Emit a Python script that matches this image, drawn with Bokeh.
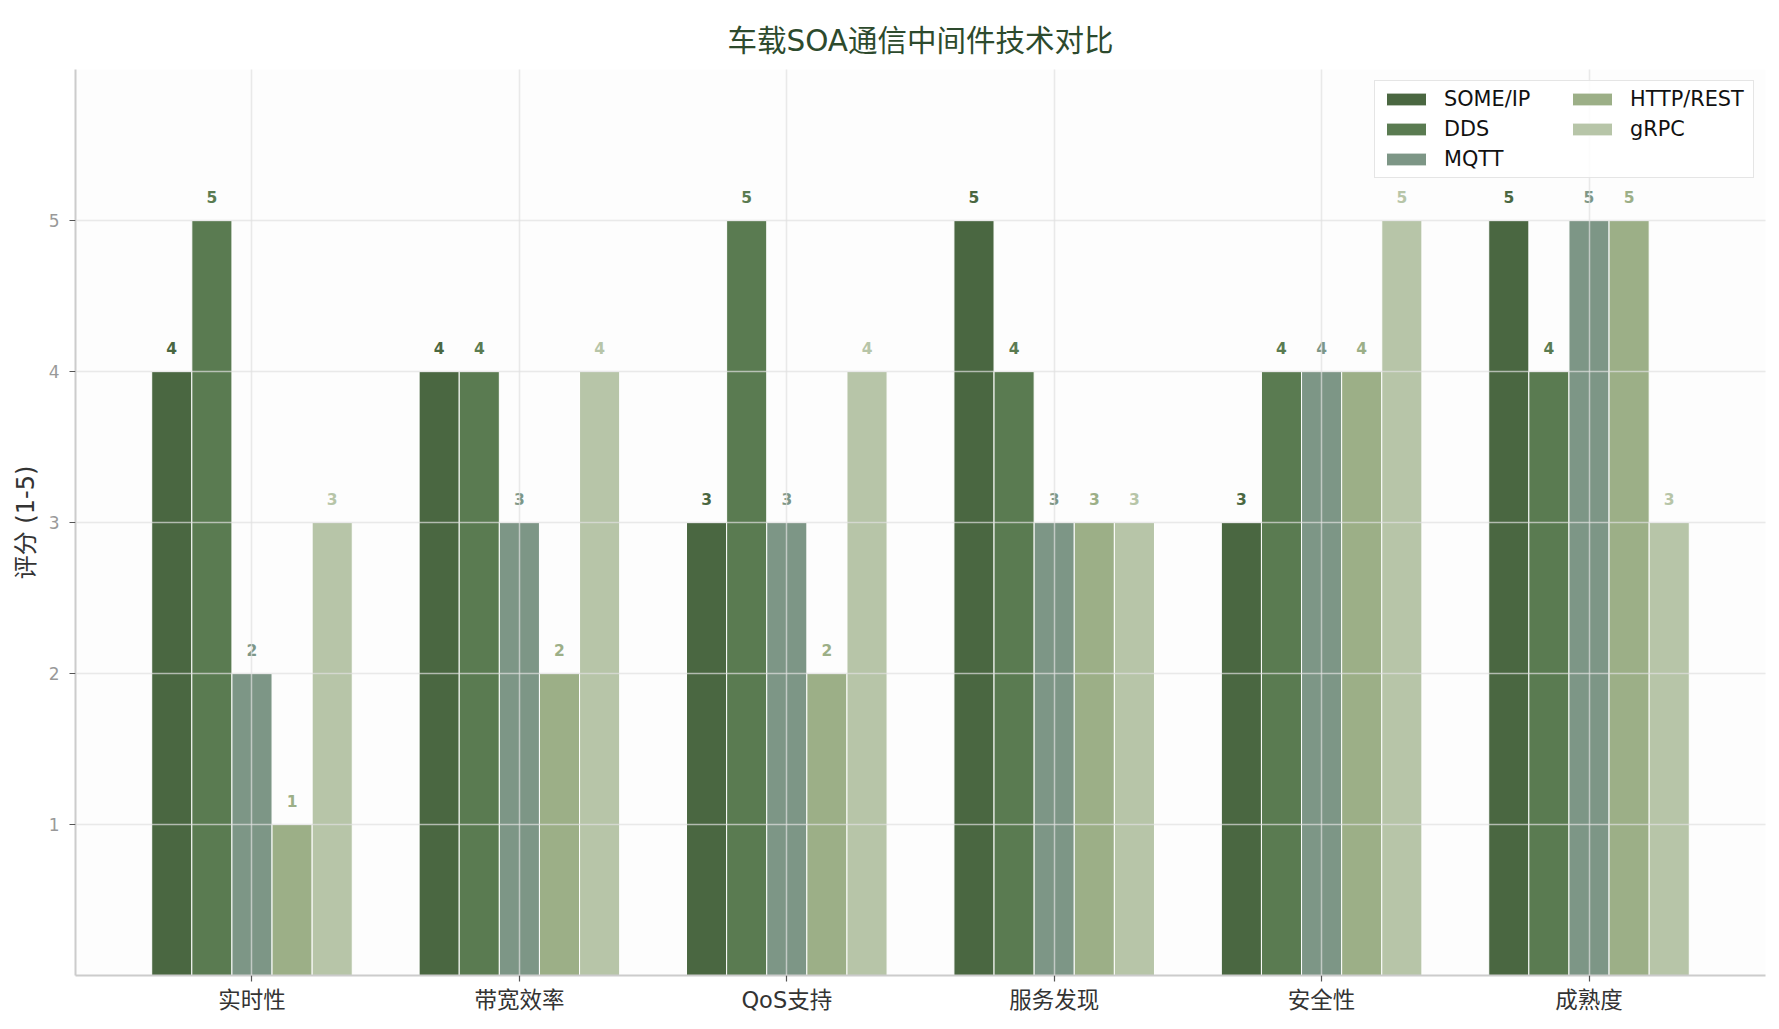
from bokeh.plotting import figure
from bokeh.models import ColumnDataSource, FactorRange, Range1d, FixedTicker, Legend, LegendItem
from bokeh.transform import dodge
from bokeh.core.properties import value
from bokeh.embed import file_html
from bokeh.resources import INLINE

categories = ["实时性", "带宽效率", "QoS支持", "服务发现", "安全性", "成熟度"]
series_names = ["SOME/IP", "DDS", "MQTT", "HTTP/REST", "gRPC"]
some_ip = [4, 4, 3, 5, 3, 5]
dds = [5, 4, 5, 4, 4, 4]
mqtt = [2, 3, 3, 3, 4, 5]
http_rest = [1, 2, 2, 3, 4, 5]
grpc = [3, 4, 4, 3, 5, 3]
y_ticks = [1, 2, 3, 4, 5]
title_text = "车载SOA通信中间件技术对比"

series_values = [some_ip, dds, mqtt, http_rest, grpc]
colors = ["#4a6741", "#5a7b51", "#7d9686", "#9caf87", "#b7c5a8"]
offsets = [-0.3, -0.15, 0.0, 0.15, 0.3]
bar_w = 0.15

MIX = "DejaVu Sans, Noto Sans CJK SC"

p = figure(
    width=1779, height=1029,
    x_range=FactorRange(factors=categories, range_padding=0.16, range_padding_units="absolute"),
    y_range=Range1d(0, 6),
    output_backend="svg", toolbar_location=None,
    min_border_left=75, min_border_right=14, min_border_top=69, min_border_bottom=54,
    title=title_text,
)
p.background_fill_color = "#fdfdfd"
p.border_fill_color = "white"
p.outline_line_color = None

p.title.text_font = MIX
p.title.text_font_size = "29.5px"
p.title.text_font_style = "normal"
p.title.text_color = "#2d4a2d"
p.title.align = "center"
p.title.vertical_align = "top"
p.title.offset = 0
p.title.standoff = 20

data = {"cat": categories}
for i, vals in enumerate(series_values):
    data[f"v{i}"] = vals
    data[f"l{i}"] = [str(v) for v in vals]
    data[f"ly{i}"] = [v + 0.155 for v in vals]
src = ColumnDataSource(data)

items = []
for i, name in enumerate(series_names):
    r = p.vbar(x=dodge("cat", offsets[i], range=p.x_range), top=f"v{i}", bottom=0, width=bar_w,
               source=src, fill_color=colors[i], line_color="white", line_width=1)
    p.text(x=dodge("cat", offsets[i], range=p.x_range), y=f"ly{i}", text=f"l{i}", source=src,
           text_color=colors[i], text_font=value("DejaVu Sans"), text_font_style="bold",
           text_font_size="15.5px", text_align="center", text_baseline="alphabetic")
    items.append(LegendItem(label=name, renderers=[r]))

legend = Legend(items=items, location="top_right", ncols=2)
legend.label_text_font = "DejaVu Sans"
legend.label_text_font_size = "20.8px"
legend.label_text_color = "#111111"
legend.glyph_width = 50
legend.glyph_height = 16
legend.label_height = 22
legend.label_width = 117
legend.label_standoff = 13
legend.spacing = 6
legend.padding = 6
legend.margin = 11
legend.border_line_color = "#cccccc"
legend.border_line_width = 1.5
legend.background_fill_color = "white"
legend.background_fill_alpha = 0.85
p.add_layout(legend)

# axes
p.yaxis.ticker = FixedTicker(ticks=y_ticks)
p.yaxis.axis_label = "评分 (1-5)"
p.yaxis.axis_label_text_font = MIX
p.yaxis.axis_label_text_font_size = "24px"
p.yaxis.axis_label_text_font_style = "normal"
p.yaxis.axis_label_text_color = "#333333"
p.yaxis.axis_label_standoff = 6
p.yaxis.major_label_text_font = "DejaVu Sans"
p.yaxis.major_label_text_font_size = "17px"
p.yaxis.major_label_text_color = "#999999"
p.yaxis.major_label_standoff = 10
p.xaxis.major_label_text_font = MIX
p.xaxis.major_label_text_font_size = "22.5px"
p.xaxis.major_label_text_color = "#333333"
p.xaxis.major_label_standoff = 5
for ax in (p.xaxis, p.yaxis):
    ax.axis_line_color = "#cccccc"
    ax.axis_line_width = 2
    ax.major_tick_line_color = "#555555"
    ax.major_tick_line_width = 1.2
    ax.major_tick_out = 6
    ax.major_tick_in = 0
    ax.minor_tick_line_color = None

p.xgrid.grid_line_color = "#e0e0e0"
p.ygrid.grid_line_color = "#e0e0e0"
p.xgrid.grid_line_alpha = 0.7
p.ygrid.grid_line_alpha = 0.7
p.xgrid.grid_line_width = 1.5
p.ygrid.grid_line_width = 1.5
p.xgrid.level = "guide"
p.ygrid.level = "guide"

open("out.html", "w").write(file_html(p, INLINE))
